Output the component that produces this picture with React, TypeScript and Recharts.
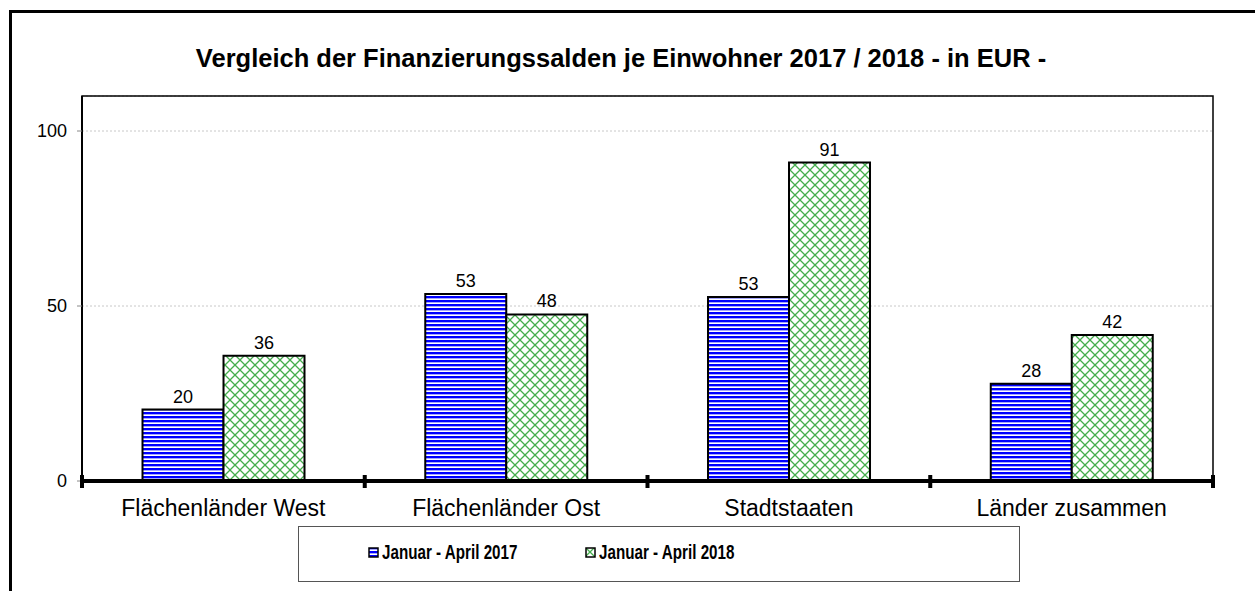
import React from "react";
import {
  BarChart,
  Bar,
  XAxis,
  YAxis,
  CartesianGrid,
  LabelList,
  ReferenceArea,
} from "recharts";

const categories = ["Flächenländer West", "Flächenländer Ost", "Stadtstaaten", "Länder zusammen"];
const values2017 = [20.4, 53.4, 52.6, 27.8];
const values2018 = [35.8, 47.6, 91.0, 41.7];
const yTicks = [0, 50, 100];
const title = "Vergleich der Finanzierungssalden je Einwohner 2017 / 2018 - in EUR -";
const seriesNames = ["Januar - April 2017", "Januar - April 2018"];

const data = categories.map((name, i) => ({
  name,
  a: values2017[i],
  b: values2018[i],
}));

const FONT = "'Liberation Sans', Arial, Helvetica, sans-serif";
const TICK_GAP = 14;

// category label plus the thick tick marks on the category boundaries
const CategoryTick = (props: any) => {
  const { x, y, payload, index, visibleTicksCount } = props;
  const half = payload?.offset ?? 0;
  const axisY = y - TICK_GAP;
  const isLast = index === visibleTicksCount - 1;
  return (
    <g>
      <rect x={x - half - 2} y={axisY - 6} width={4} height={13} fill="#000" />
      {isLast && <rect x={x + half - 2} y={axisY - 6} width={4} height={13} fill="#000" />}
      <text x={x} y={y} dy={21} textAnchor="middle" fontSize={23} fill="#000" fontFamily={FONT}>
        {payload.value}
      </text>
    </g>
  );
};

const LegendIcon = ({ fill }: { fill: string }) => (
  <svg width={11} height={11} style={{ marginRight: 3 }}>
    <rect x={1} y={1} width={9} height={9} fill={fill} stroke="#000" strokeWidth={1.5} />
  </svg>
);

const LegendText = ({ text }: { text: string }) => (
  <span style={{ display: "inline-block", transform: "scaleX(0.76)", transformOrigin: "left center", whiteSpace: "nowrap" }}>
    {text}
  </span>
);

export default function App() {
  return (
    <div
      style={{
        position: "absolute",
        left: 0,
        top: 0,
        width: 1255,
        height: 591,
        overflow: "hidden",
        background: "#fff",
        fontFamily: FONT,
      }}
    >
      <svg width={0} height={0} style={{ position: "absolute" }}>
        <defs>
          <pattern id="stripes" width={4} height={4} patternUnits="userSpaceOnUse">
            <rect width={4} height={4} fill="#fff" />
            <rect y={0} width={4} height={2.2} fill="#0000ff" />
            <rect y={2.2} width={4} height={0.6} fill="#8c8cff" />
          </pattern>
          <pattern id="hatch" width={10} height={10} patternUnits="userSpaceOnUse">
            <rect width={10} height={10} fill="#fff" />
            <path d="M0,0 L10,10 M10,0 L0,10" stroke="#45ad4d" strokeWidth={1.3} />
          </pattern>
        </defs>
      </svg>

      <div
        style={{
          position: "absolute",
          left: 9,
          top: 10,
          width: 1400,
          height: 800,
          border: "3px solid #000",
        }}
      />

      <div
        style={{
          position: "absolute",
          left: 0,
          top: 44,
          width: 1242,
          textAlign: "center",
          fontWeight: "bold",
          fontSize: 25.5,
          color: "#000",
          whiteSpace: "nowrap",
        }}
      >
        {title}
      </div>

      <div style={{ position: "absolute", left: 0, top: 0 }}>
        <BarChart
          width={1255}
          height={591}
          data={data}
          margin={{ top: 96, right: 42, left: 0, bottom: 80 }}
          barCategoryGap="21.4%"
          barGap={0}
        >
          <CartesianGrid vertical={false} stroke="#c8c8c8" strokeDasharray="2 2" />
          <ReferenceArea y1={0} y2={110} fill="none" stroke="#000" strokeWidth={1.5} ifOverflow="visible" />
          <XAxis
            dataKey="name"
            height={30}
            axisLine={{ stroke: "#000", strokeWidth: 4 }}
            tickLine={false}
            tickSize={0}
            tickMargin={TICK_GAP}
            tick={<CategoryTick />}
            interval={0}
          />
          <YAxis
            width={82}
            domain={[0, 110]}
            ticks={yTicks}
            axisLine={{ stroke: "#000", strokeWidth: 2 }}
            tickLine={{ stroke: "#888" }}
            tickSize={5}
            tickMargin={10}
            tick={{ fontSize: 18, fill: "#000", fontFamily: FONT }}
          />
          <Bar dataKey="a" fill="url(#stripes)" stroke="#000" strokeWidth={2} isAnimationActive={false}>
            <LabelList
              dataKey="a"
              position="top"
              offset={7}
              formatter={(v: any) => Math.round(Number(v))}
              style={{ fontSize: 18, fill: "#000", fontFamily: FONT }}
            />
          </Bar>
          <Bar dataKey="b" fill="url(#hatch)" stroke="#000" strokeWidth={2} isAnimationActive={false}>
            <LabelList
              dataKey="b"
              position="top"
              offset={7}
              formatter={(v: any) => Math.round(Number(v))}
              style={{ fontSize: 18, fill: "#000", fontFamily: FONT }}
            />
          </Bar>
        </BarChart>
      </div>

      <div
        style={{
          position: "absolute",
          left: 298,
          top: 526,
          width: 720,
          height: 54,
          border: "1px solid #555",
          fontWeight: "bold",
          fontSize: 20,
          color: "#000",
        }}
      >
        <div style={{ position: "absolute", left: 69, top: 14, display: "flex", alignItems: "center" }}>
          <LegendIcon fill="url(#stripes)" />
          <LegendText text={seriesNames[0]} />
        </div>
        <div style={{ position: "absolute", left: 286, top: 14, display: "flex", alignItems: "center" }}>
          <LegendIcon fill="url(#hatch)" />
          <LegendText text={seriesNames[1]} />
        </div>
      </div>
    </div>
  );
}
